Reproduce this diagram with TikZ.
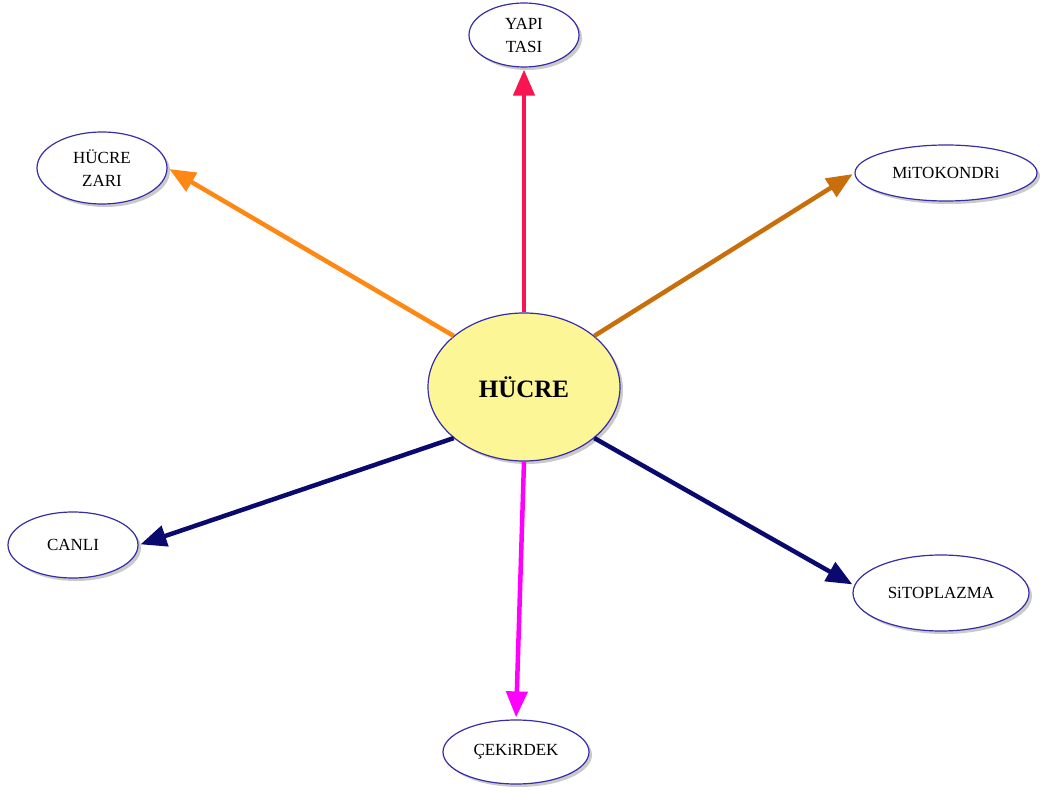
\documentclass[tikz,border=0pt]{standalone}
\usepackage{fontspec}
\setmainfont{Liberation Serif}
\usetikzlibrary{shapes.geometric,arrows.meta,shadows}
\definecolor{rimblue}{RGB}{55,45,165}
\definecolor{coreyellow}{RGB}{252,246,150}
\definecolor{arrred}{RGB}{250,20,80}
\definecolor{arrorange}{RGB}{255,135,20}
\definecolor{arrbrown}{RGB}{200,110,10}
\definecolor{arrnavy}{RGB}{10,10,110}
\definecolor{arrmagenta}{RGB}{255,0,255}
\tikzset{
  bubble/.style={ellipse, draw=rimblue, line width=1.2pt, fill=white,
    inner sep=0pt, align=center, font=\fontsize{17}{23}\selectfont,
    drop shadow={shadow xshift=3pt, shadow yshift=-3pt, opacity=0.35, fill=black!60}},
  corebubble/.style={bubble, fill=coreyellow, font=\fontsize{25}{28}\selectfont\bfseries},
  link/.style={line width=4.5pt, -{Triangle[length=26pt,width=21pt]}, shorten >=2pt}
}
\begin{document}
\begin{tikzpicture}[x=1pt,y=-1pt]
\useasboundingbox (0,0) rectangle (1042,794);

\node[corebubble, minimum width=192pt, minimum height=148pt] (core) at (524,387) {HÜCRE};

\node[bubble, minimum width=110pt, minimum height=64pt] (yapi) at (524,35) {YAPI\\TASI};
\node[bubble, minimum width=130pt, minimum height=72pt] (zar) at (102,168) {HÜCRE\\ZARI};
\node[bubble, minimum width=182pt, minimum height=56pt] (mito) at (946,173) {MiTOKONDRi};
\node[bubble, minimum width=130pt, minimum height=66pt] (canli) at (73,545) {CANLI};
\node[bubble, minimum width=176pt, minimum height=76pt] (sito) at (941,593) {SiTOPLAZMA};
\node[bubble, minimum width=146pt, minimum height=64pt] (cek) at (516,752) {ÇEKiRDEK};

\draw[link, arrred] (core.north) -- (yapi.south);
\draw[link, arrorange] (core.144) -- (zar.east);
\draw[link, arrbrown] (core.36) -- (mito.west);
\draw[link, arrnavy] (core.216) -- (canli.east);
\draw[link, arrnavy] (core.-36) -- (sito.175);
\draw[link, arrmagenta] (core.south) -- (cek.north);
\end{tikzpicture}
\end{document}
